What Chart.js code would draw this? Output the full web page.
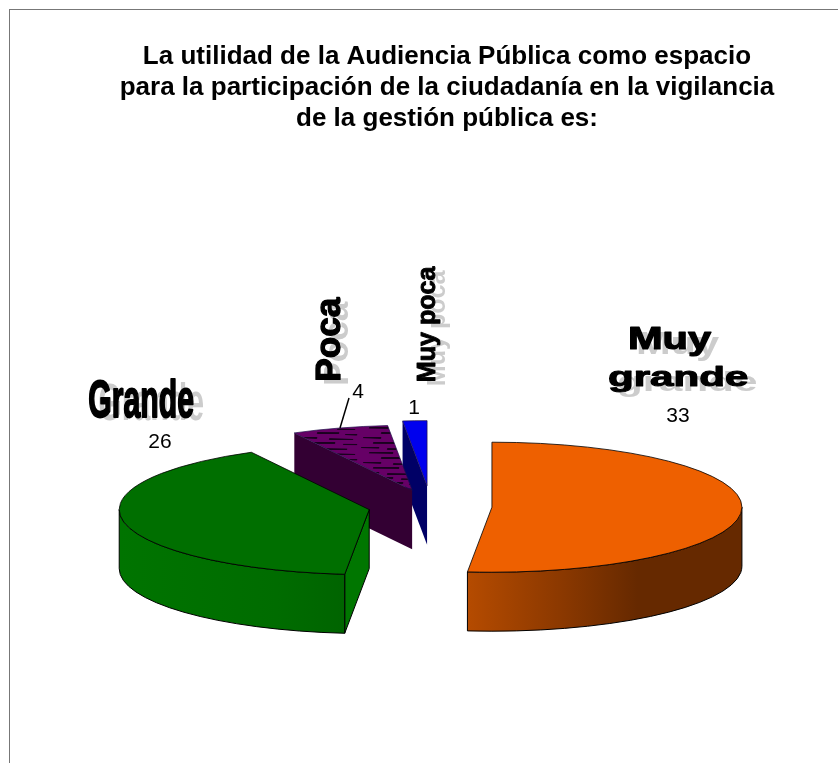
<!DOCTYPE html>
<html>
<head>
<meta charset="utf-8">
<script src="https://cdn.jsdelivr.net/npm/chart.js@4"></script>
<style>
  html, body { margin: 0; padding: 0; background: #fff; overflow: hidden; }
  #frame { position: absolute; left: 9px; top: 9px; border-left: 1px solid #777; border-top: 1px solid #777; width: 874px; height: 753px; }
  canvas { display: block; }
</style>
</head>
<body>
<div id="frame"><canvas id="chart" width="874" height="753"></canvas></div>
<script>
const titleLines = [
  'La utilidad de la Audiencia Pública como espacio',
  'para la participación de la ciudadanía en la vigilancia',
  'de la gestión pública es:'
];
const categories = ['Muy grande', 'Grande', 'Poca', 'Muy poca'];
const values = [33, 26, 4, 1];
const sliceColors = ['#ee6000', '#006f00', '#660066', '#0000ee'];
const faceColors = ['#a84400', '#007600', '#330033', '#000066'];
const rimStops = [['#b54b00', '#8a3800', '#662900', '#662900'], ['#007400', '#007000', '#006c00', '#006400']];
const sliceOffsets = [61, 63, 65, 80];

const squash = 0.26; // how flat the pie is seen
const wallDepth = 59;
const pieShift = -16; // title is centred further right than the pie

// wordart labels, one box per line: [left, top, right, bottom] on the page, shadow shift, rotated or not
const labelBoxes = [
  [{ box: [630, 327, 712, 355], shadow: [8, 5] }, { box: [609, 365, 747, 392], shadow: [9, 5] }],
  [{ box: [89, 378, 193, 417], shadow: [10, 3] }],
  [{ box: [315, 297, 340, 380], shadow: [8, 4], rotated: true }],
  [{ box: [417, 266, 440, 381], shadow: [10, 4], rotated: true }]
];
const valueSpots = [[678, 416], [160, 442], [358, 392], [414, 408]];
const leader = [[349, 398], [340, 428]];

const pageX = x => x - 10;
const pageY = y => y - 10;

function hatchPattern() {
  const tile = document.createElement('canvas');
  tile.width = 64; tile.height = 96;
  const c = tile.getContext('2d');
  c.fillStyle = sliceColors[2];
  c.fillRect(0, 0, 64, 96);
  c.strokeStyle = '#1a001f';
  c.lineWidth = 6;
  [[4, 6, 22], [34, 12, 58], [14, 26, 40], [48, 32, 62], [2, 44, 20], [28, 50, 52], [10, 64, 34], [42, 70, 60], [22, 84, 44], [50, 90, 62]].forEach(m => {
    c.beginPath(); c.moveTo(m[0], m[1]); c.lineTo(m[2], m[1] + 1); c.stroke();
  });
  return c.createPattern(tile, 'repeat');
}

function sliceCentre(arc, i) {
  const mid = (arc.startAngle + arc.endAngle) / 2;
  return {
    x: arc.x + pieShift + Math.cos(mid) * sliceOffsets[i],
    y: arc.y + Math.sin(mid) * sliceOffsets[i] * squash
  };
}

function drawWalls(ctx, arc, i) {
  const c = sliceCentre(arc, i);
  const R = arc.outerRadius, ry = R * squash;
  const a = arc.startAngle, b = arc.endAngle;
  ctx.strokeStyle = '#000';
  ctx.lineWidth = 1;

  // cut faces turned to the viewer
  [[a, Math.cos(a) < -1e-6], [b, Math.cos(b) > 1e-6]].forEach(([ang, visible]) => {
    if (!visible) return;
    const ex = c.x + Math.cos(ang) * R, ey = c.y + Math.sin(ang) * ry;
    ctx.beginPath();
    ctx.moveTo(c.x, c.y);
    ctx.lineTo(ex, ey);
    ctx.lineTo(ex, ey + wallDepth);
    ctx.lineTo(c.x, c.y + wallDepth);
    ctx.closePath();
    ctx.fillStyle = faceColors[i];
    ctx.fill();
    if (i < 2) ctx.stroke();
  });

  // round front rim
  const from = Math.max(a, 0), to = Math.min(b, Math.PI);
  if (to > from && i < 2) {
    const x0 = c.x + Math.cos(to) * R, x1 = c.x + Math.cos(from) * R;
    const g = ctx.createLinearGradient(x0, 0, x1, 0);
    const stops = rimStops[i];
    const order = i === 0 ? [0, 0.35, 0.62, 1] : [0, 0.35, 0.7, 1];
    stops.forEach((s, k) => g.addColorStop(order[k], s));
    ctx.beginPath();
    ctx.ellipse(c.x, c.y, R, ry, 0, from, to);
    ctx.ellipse(c.x, c.y + wallDepth, R, ry, 0, to, from, true);
    ctx.closePath();
    ctx.fillStyle = g;
    ctx.fill();
    ctx.stroke();
  }
}

function fitText(ctx, text, l, t, r, b, rotated, color, weight) {
  const w = rotated ? b - t : r - l, h = rotated ? r - l : b - t;
  ctx.save();
  ctx.font = 'bold 40px "Liberation Sans"';
  ctx.textAlign = 'left';
  ctx.textBaseline = 'alphabetic';
  const m = ctx.measureText(text);
  const tw = m.actualBoundingBoxLeft + m.actualBoundingBoxRight;
  const th = m.actualBoundingBoxAscent + m.actualBoundingBoxDescent;
  ctx.translate((l + r) / 2, (t + b) / 2);
  if (rotated) ctx.rotate(-Math.PI / 2);
  ctx.scale(w / tw, h / th);
  const px = -tw / 2 + m.actualBoundingBoxLeft, py = -th / 2 + m.actualBoundingBoxAscent;
  ctx.fillStyle = color;
  ctx.fillText(text, px, py);
  if (weight) {
    ctx.strokeStyle = color;
    ctx.lineWidth = weight;
    ctx.lineJoin = 'round';
    ctx.strokeText(text, px, py);
  }
  ctx.restore();
}

function drawLabels(ctx) {
  categories.forEach((name, i) => {
    const boxes = labelBoxes[i];
    const words = boxes.length > 1 ? name.split(' ') : [name];
    ['#cccccc', '#000'].forEach((color, layer) => {
      boxes.forEach((item, n) => {
        const dx = layer ? 0 : item.shadow[0], dy = layer ? 0 : item.shadow[1];
        fitText(ctx, words[n], pageX(item.box[0] + dx), pageY(item.box[1] + dy),
          pageX(item.box[2] + dx), pageY(item.box[3] + dy), item.rotated, color, layer ? 1.5 : 0);
      });
    });
    ctx.fillStyle = '#000';
    ctx.font = '21px "Liberation Sans"';
    ctx.textAlign = 'center';
    ctx.textBaseline = 'middle';
    ctx.fillText(String(values[i]), pageX(valueSpots[i][0]), pageY(valueSpots[i][1]));
  });
  ctx.strokeStyle = '#000';
  ctx.lineWidth = 1.5;
  ctx.beginPath();
  ctx.moveTo(pageX(leader[0][0]), pageY(leader[0][1]));
  ctx.lineTo(pageX(leader[1][0]), pageY(leader[1][1]));
  ctx.stroke();
}

const pie3d = {
  id: 'pie3d',
  beforeDatasetsDraw(chart) {
    const ctx = chart.ctx;
    const arcs = chart.getDatasetMeta(0).data;
    [3, 2, 1, 0].forEach(i => drawWalls(ctx, arcs[i], i));
    // tops: the library's own arcs, moved out and flattened
    arcs.forEach((arc, i) => {
      const c = sliceCentre(arc, i);
      ctx.save();
      ctx.translate(c.x, c.y);
      ctx.scale(1, squash);
      ctx.translate(-arc.x, -arc.y);
      arc.draw(ctx, chart.chartArea);
      ctx.restore();
    });
    arcs.forEach((arc, i) => {
      const c = sliceCentre(arc, i);
      const R = arc.outerRadius;
      ctx.strokeStyle = i < 2 ? '#000' : '#20104a';
      ctx.lineWidth = i < 2 ? 0.8 : 0.7;
      ctx.beginPath();
      ctx.moveTo(c.x, c.y);
      ctx.ellipse(c.x, c.y, R, R * squash, 0, arc.startAngle, arc.endAngle);
      ctx.closePath();
      ctx.stroke();
    });
    drawLabels(ctx);
    return false; // already drawn above
  }
};

const fills = sliceColors.slice();
fills[2] = hatchPattern();

new Chart(document.getElementById('chart'), {
  type: 'pie',
  data: {
    labels: categories,
    datasets: [{
      data: values,
      backgroundColor: fills,
      borderWidth: 0
    }]
  },
  options: {
    responsive: false,
    animation: false,
    radius: 250,
    plugins: {
      legend: { display: false },
      tooltip: { enabled: false },
      title: {
        display: true,
        text: titleLines,
        color: '#000',
        font: { family: '"Liberation Sans"', size: 26, weight: 'bold', lineHeight: 1.19 },
        padding: { top: 31, bottom: 116 }
      }
    }
  },
  plugins: [pie3d]
});
</script>
</body>
</html>
